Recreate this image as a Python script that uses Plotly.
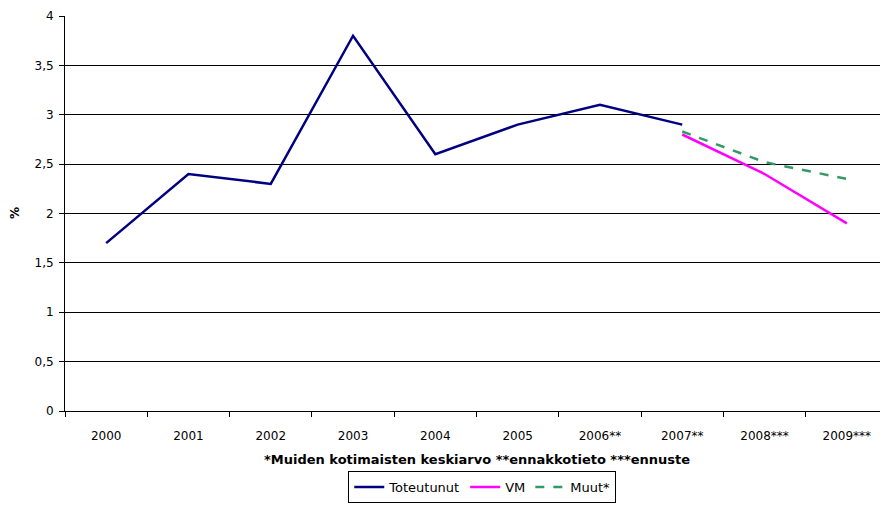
import plotly.graph_objects as go

categories = ["2000", "2001", "2002", "2003", "2004", "2005", "2006**", "2007**", "2008***", "2009***"]
toteutunut = [1.7, 2.4, 2.3, 3.8, 2.6, 2.9, 3.1, 2.9, None, None]
vm = [None, None, None, None, None, None, None, 2.8, 2.4, 1.9]
muut = [None, None, None, None, None, None, None, 2.83, 2.52, 2.35]
y_ticks = [0, 0.5, 1, 1.5, 2, 2.5, 3, 3.5, 4]
y_tick_labels = ["0", "0,5", "1", "1,5", "2", "2,5", "3", "3,5", "4"]

font = "DejaVu Sans, Liberation Sans, Arial, sans-serif"

fig = go.Figure()
fig.add_trace(go.Scatter(x=categories, y=toteutunut, mode="lines", name="Toteutunut",
                         line=dict(color="#000080", width=2.5)))
fig.add_trace(go.Scatter(x=categories, y=vm, mode="lines", name="VM",
                         line=dict(color="#FF00FF", width=2.5)))
fig.add_trace(go.Scatter(x=categories, y=muut, mode="lines", name="Muut*",
                         line=dict(color="#339966", width=2.5, dash="dash")))

# page has an 8px body margin: figure drawn at (8, 8)
fig.update_layout(
    width=880, height=497,
    margin=dict(l=57, r=0, t=8, b=94, autoexpand=False),
    separators=", ",
    paper_bgcolor="white", plot_bgcolor="white",
    font=dict(family=font, size=12, color="black"),
    showlegend=True,
    legend=dict(orientation="h", xref="paper", yref="paper",
                x=0.507, xanchor="center", y=-0.2329, yanchor="bottom",
                bordercolor="black", borderwidth=1, bgcolor="white",
                font=dict(size=13), tracegroupgap=0),
    xaxis=dict(type="category", range=[-0.5, 9.5], showgrid=False,
               showline=True, linecolor="black", linewidth=1,
               ticks="outside", tickson="boundaries", ticklen=5, tickcolor="black",
               ticklabelstandoff=14, tickfont=dict(size=12)),
    yaxis=dict(range=[0, 4], tickvals=y_ticks, ticktext=y_tick_labels,
               showgrid=True, gridcolor="#000000", gridwidth=1,
               showline=True, linecolor="black", linewidth=1,
               ticks="outside", ticklen=5, tickcolor="black", zeroline=False,
               ticklabelstandoff=3, tickfont=dict(size=12)),
    annotations=[
        dict(text="<b>*Muiden kotimaisten keskiarvo **ennakkotieto ***ennuste</b>",
             xref="paper", yref="paper", x=0.5, y=-0.124, xanchor="center",
             yanchor="middle", showarrow=False, font=dict(size=13)),
        dict(text="<b>%</b>", xref="paper", yref="paper",
             x=-0.0608, y=0.501, textangle=-90, xanchor="center",
             yanchor="middle", showarrow=False, font=dict(size=12)),
    ],
)

fig.write_html("out.html")
